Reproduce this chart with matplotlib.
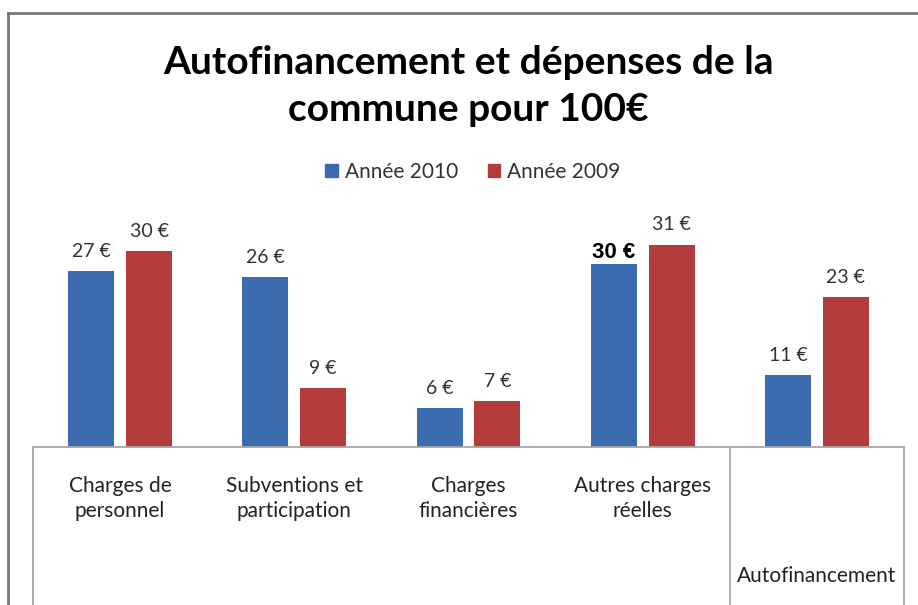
import matplotlib.pyplot as plt
from matplotlib.patches import Patch
from matplotlib.lines import Line2D

categories = ["Charges de\npersonnel", "Subventions et\nparticipation", "Charges\nfinancières",
              "Autres charges\nréelles", "Autofinancement"]
annee_2010 = [27, 26, 6, 28, 11]
annee_2009 = [30, 9, 7, 31, 23]
labels_2010 = ["27 €", "26 €", "6 €", "30 €", "11 €"]
labels_2009 = ["30 €", "9 €", "7 €", "31 €", "23 €"]
series_names = ["Année 2010", "Année 2009"]

blue = "#3c6bb0"
red = "#b33b3b"
txt = "#333333"
font = "Lato"

W, H = 918, 605
fig = plt.figure(figsize=(W / 100, H / 100), dpi=100)

# axes placed in pixel terms: x 33..904, baseline at y=447, top at y=200
ax = fig.add_axes([33 / W, 1 - 447 / H, (904 - 33) / W, (447 - 200) / H])
ax.set_xlim(-0.5, 4.5)
ax.set_ylim(0, 247 / 6.53)
ax.axis("off")

x = range(len(categories))
off = 0.166
bw = 0.265
b1 = ax.bar([i - off for i in x], annee_2010, bw, color=blue, label=series_names[0])
b2 = ax.bar([i + off for i in x], annee_2009, bw, color=red, label=series_names[1])

for bars, vals, labs in ((b1, annee_2010, labels_2010), (b2, annee_2009, labels_2009)):
    for r, v, lab in zip(bars, vals, labs):
        cx = r.get_x() + r.get_width() / 2
        if bars is b1 and lab == "30 €":
            # this one was typed over in the original, bold Arial
            ax.annotate(lab, (cx, v), xytext=(0, 1), textcoords="offset points",
                        ha="center", va="bottom", fontsize=16, fontweight="bold",
                        family="Liberation Sans", color="black")
        else:
            ax.annotate(lab, (cx, v), xytext=(0, 8), textcoords="offset points",
                        ha="center", va="bottom", fontsize=14, family=font, color=txt)

# table-like frame under the bars
gray = "#a6a6a6"
ax.plot([-0.5, 4.5], [0, 0], color=gray, lw=1.3, clip_on=False)
tr = ax.get_xaxis_transform()
for xv in (-0.5, 3.5, 4.5):
    ax.add_line(Line2D([xv, xv], [0, -1], transform=tr, color=gray, lw=1.3, clip_on=False))

ax_h = 247
for i, c in enumerate(categories):
    if i < 4:
        ax.text(i, -51.5 / ax_h, c, transform=tr, ha="center", va="center",
                fontsize=15, family=font, color="#222222", linespacing=1.35)
    else:
        ax.text(i, -129 / ax_h, c, transform=tr, ha="center", va="center", fontsize=15,
                family=font, color="#222222")

fig.text(468 / W, 1 - 86 / H, "Autofinancement et dépenses de la\ncommune pour 100€",
         ha="center", va="center", fontsize=28, fontweight="bold", family=font,
         color="black", linespacing=1.42)

handles = [Patch(color=blue), Patch(color=red)]
fig.legend(handles, series_names, loc="center", bbox_to_anchor=(473 / W, 1 - 172 / H),
           ncol=2, frameon=False, handlelength=0.6, handleheight=0.6, handletextpad=0.35,
           columnspacing=1.4, prop={"family": font, "size": 15}, labelcolor=txt)

# outer frame (top and left edge)
fig.add_artist(Line2D([8 / W, 1], [1 - 13 / H, 1 - 13 / H], color="#777777", lw=2))
fig.add_artist(Line2D([8 / W, 8 / W], [0, 1 - 13 / H], color="#777777", lw=2))

fig.savefig("out.png", dpi=100)
